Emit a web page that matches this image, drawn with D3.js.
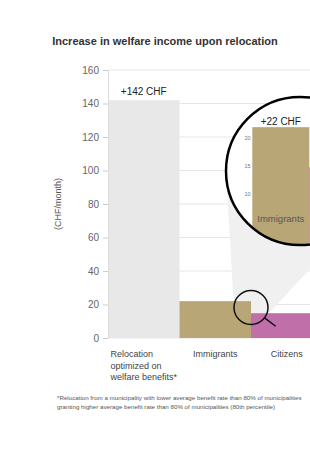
<!DOCTYPE html>
<html>
<head>
  <meta charset="UTF-8">
  <title>Welfare income relocation</title>
  <style>
    body { margin: 0; background: #fff; }
    svg { display: block; font-family: "Liberation Sans", Arial, sans-serif; }
    .title { font-size: 11px; font-weight: bold; fill: #333; text-anchor: middle; }
    .tick text { font-size: 10px; fill: #666; }
    .ytitle { font-size: 9px; fill: #555; text-anchor: middle; }
    .cat { font-size: 9px; fill: #444; }
    .val { font-size: 10px; fill: #222; text-anchor: middle; }
    .note { font-size: 6.2px; fill: #555; }
  </style>
</head>
<body>
<svg></svg>
<script src="https://d3js.org/d3.v7.min.js"></script>
<script>

let width = 310, height = 450;

// data
var categories = ["Relocation", "Immigrants", "Citizens"];
var catLabels = [["Relocation", "optimized on", "welfare benefits*"], ["Immigrants"], ["Citizens"]];
var values = [142, 22, 14.8];
var colors = ["#e8e8e8", "#b9a677", "#c06fa8"];
var valueLabels = ["+142 CHF", "+22 CHF", ""];
var yTicks = [0, 20, 40, 60, 80, 100, 120, 140, 160];
var zoomTicks = [10, 15, 20];
var notes = ["*Relocation from a municipality with lower average benefit rate than 80% of municipalities",
             "granting higher average benefit rate than 80% of municipalities (80th percentile)"];

let svg = d3.select("svg")
    .attr("width", width)
    .attr("height", height);

svg.append("text")
    .attr("class", "title")
    .attr("x", 165)
    .attr("y", 45)
    .text("Increase in welfare income upon relocation");

const x = d3.scaleBand()
    .domain(categories)
    .range([108, 322.5])
    .padding(0);

const y = d3.scaleLinear()
    .domain([0, 160])
    .range([338, 70]);

// gridlines
svg.append("g")
    .selectAll("line")
    .data(yTicks)
    .enter()
    .append("line")
    .attr("x1", 108)
    .attr("x2", width)
    .attr("y1", d => y(d))
    .attr("y2", d => y(d))
    .style("stroke", "#e6e6e6");

// magnifier geometry
var small = { x: x("Citizens"), y: y(18.2), r: 17 };
var big = { x: 300, y: 171, r: 74 };

// cone between the two circles (outer tangents)
var dx = big.x - small.x, dy = big.y - small.y;
var D = Math.sqrt(dx * dx + dy * dy);
var th = Math.atan2(dy, dx);
var ph = Math.acos((small.r - big.r) / D);
var pts = [th + ph, th - ph];
var cone = [
    [small.x + small.r * Math.cos(pts[0]), small.y + small.r * Math.sin(pts[0])],
    [big.x + big.r * Math.cos(pts[0]), big.y + big.r * Math.sin(pts[0])],
    [big.x + big.r * Math.cos(pts[1]), big.y + big.r * Math.sin(pts[1])],
    [small.x + small.r * Math.cos(pts[1]), small.y + small.r * Math.sin(pts[1])]
];
svg.append("path")
    .attr("d", "M" + cone.join("L") + "Z")
    .style("fill", "#f0f0f0");

// bars
svg.append("g")
    .selectAll("rect")
    .data(values)
    .enter()
    .append("rect")
    .attr("x", (d, i) => x(categories[i]))
    .attr("width", x.bandwidth())
    .attr("y", d => y(d))
    .attr("height", d => y(0) - y(d))
    .attr("fill", (d, i) => colors[i]);

// y axis
let yAxis = svg.append("g")
    .attr("transform", "translate(108,0)")
    .call(d3.axisLeft(y).tickValues(yTicks).tickSize(5).tickPadding(4));
yAxis.selectAll("line").style("stroke", "#ccc");
yAxis.select(".domain").style("stroke", "#ddd");
yAxis.selectAll("text").style("font-family", "inherit");

svg.append("text")
    .attr("class", "ytitle")
    .attr("transform", "translate(61," + y(80) + ") rotate(-90)")
    .text("(CHF/month)");

// value labels
svg.append("text")
    .attr("class", "val")
    .attr("x", x("Relocation") + x.bandwidth() / 2)
    .attr("y", 94.5)
    .text(valueLabels[0]);

// category labels, block centred under the bar, lines left aligned
catLabels.forEach(function (lines, i) {
    let t = svg.append("text")
        .attr("class", "cat")
        .attr("y", 357);
    lines.forEach(function (l, j) {
        t.append("tspan").attr("dy", j ? 11.5 : 0).text(l);
    });
    let w = d3.max(t.selectAll("tspan").nodes(), n => n.getComputedTextLength());
    let x0 = x(categories[i]) + x.bandwidth() / 2 - w / 2;
    t.selectAll("tspan").attr("x", x0);
});

// small magnifier
svg.append("circle")
    .attr("cx", small.x)
    .attr("cy", small.y)
    .attr("r", small.r)
    .style("fill", "none")
    .style("stroke", "#111")
    .style("stroke-width", 1.5);
svg.append("line")
    .attr("x1", small.x + small.r * Math.cos(0.65))
    .attr("y1", small.y + small.r * Math.sin(0.65))
    .attr("x2", small.x + (small.r + 14) * Math.cos(0.65))
    .attr("y2", small.y + (small.r + 14) * Math.sin(0.65))
    .style("stroke", "#111")
    .style("stroke-width", 1.5);

// big magnifier with zoomed chart inside
svg.append("clipPath")
    .attr("id", "lens")
    .append("circle")
    .attr("cx", big.x)
    .attr("cy", big.y)
    .attr("r", big.r);

let lens = svg.append("g").attr("clip-path", "url(#lens)");
lens.append("circle")
    .attr("cx", big.x)
    .attr("cy", big.y)
    .attr("r", big.r)
    .style("fill", "#fff");

const xz = d3.scaleBand()
    .domain(categories.slice(1))
    .range([252.3, 366.3]);
const yz = d3.scaleLinear()
    .domain([0, 25])
    .range([249.5, 110.5]);

lens.selectAll("rect.z")
    .data(values.slice(1))
    .enter()
    .append("rect")
    .attr("x", (d, i) => xz(categories[i + 1]))
    .attr("width", xz.bandwidth())
    .attr("y", d => yz(d))
    .attr("height", d => yz(0) - yz(d))
    .attr("fill", (d, i) => colors[i + 1]);

lens.selectAll("text.zt")
    .data(zoomTicks)
    .enter()
    .append("text")
    .attr("x", 250.5)
    .attr("y", d => yz(d) + 2)
    .attr("text-anchor", "end")
    .style("font-size", "5.5px")
    .style("fill", "#777")
    .text(d => d);

lens.append("text")
    .attr("class", "val")
    .attr("x", xz("Immigrants") + xz.bandwidth() / 2)
    .attr("y", 124.5)
    .text(valueLabels[1]);

lens.append("text")
    .attr("x", xz("Immigrants") + xz.bandwidth() / 2)
    .attr("y", 221.5)
    .attr("text-anchor", "middle")
    .style("font-size", "9.5px")
    .style("fill", "#555")
    .text("Immigrants");

svg.append("circle")
    .attr("cx", big.x)
    .attr("cy", big.y)
    .attr("r", big.r)
    .style("fill", "none")
    .style("stroke", "#000")
    .style("stroke-width", 2.5);

// footnote
svg.append("g")
    .selectAll("text")
    .data(notes)
    .enter()
    .append("text")
    .attr("class", "note")
    .attr("x", 57)
    .attr("y", (d, i) => 400 + i * 9)
    .text(d => d);

</script>
</body>
</html>
